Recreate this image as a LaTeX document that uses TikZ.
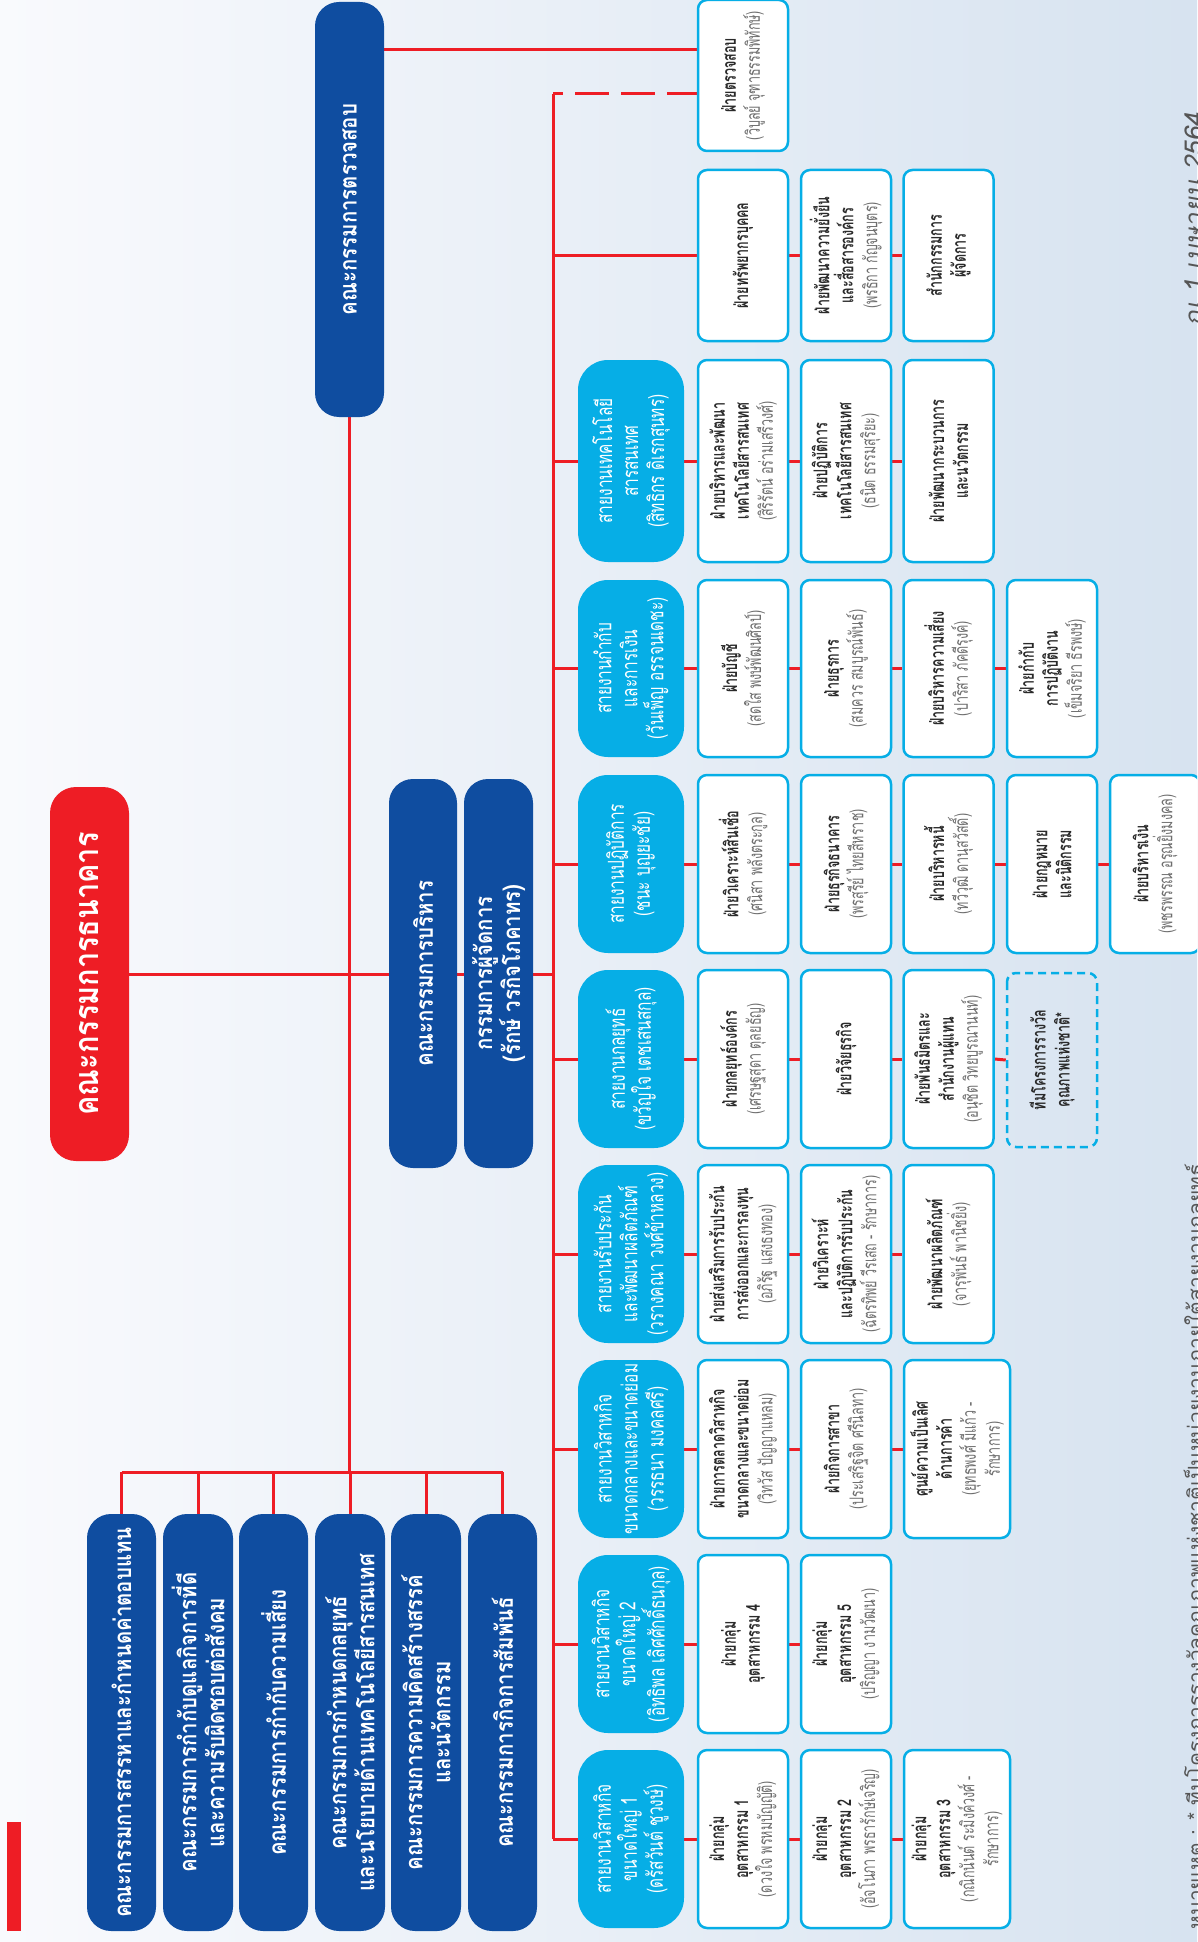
\documentclass[tikz,border=0pt]{standalone}
\usepackage{fontspec}
\newfontfamily\thaisub[Script=Thai,FakeStretch=0.66]{Loma}
\newfontfamily\thaidiv[Script=Thai,FakeStretch=0.7]{Loma}
\newfontfamily\thaicond[Script=Thai,FakeStretch=0.85]{Loma}
\newfontfamily\thaireg[Script=Thai]{Loma}
\newfontfamily\thaiital[Script=Thai,FakeSlant=0.18]{Loma}
\definecolor{myred}{HTML}{EE1D25}
\definecolor{myblue}{HTML}{0F4DA0}
\definecolor{mycyan}{HTML}{06AEE6}
\definecolor{bgl}{HTML}{F9FAFD}
\definecolor{bgr}{HTML}{D7E3F0}
\definecolor{namegray}{HTML}{6E6E6E}
\definecolor{titlec}{HTML}{2A2A2A}
\definecolor{notegray}{HTML}{555555}
\newcommand\pname[1]{{\mdseries\color{namegray}#1}}
\pgfdeclarelayer{back}
\pgfdeclarelayer{lines}
\pgfsetlayers{back,lines,main}
\tikzset{
  conn/.style={draw=myred, line width=3pt},
  dconn/.style={conn, dash pattern=on 34pt off 12pt, dash phase=24pt},
  rot/.style 2 args={rotate=90, minimum width=#1, minimum height=#2, inner sep=2pt, align=center},
  boardbox/.style={rot={374pt}{79pt}, fill=myred, rounded corners=26pt, text=white, font=\thaicond\bfseries\fontsize{34}{40}\selectfont},
  bluebox/.style={fill=myblue, rounded corners=24pt, text=white, font=\thaicond\bfseries\fontsize{24}{28}\selectfont},
  divbox/.style={rot={#1}{106pt}, fill=mycyan, rounded corners=30pt, text=white, font=\thaidiv\fontsize{22}{26}\selectfont},
  subbox/.style={rot={#1}{90pt}, draw=mycyan, line width=2.5pt, fill=white, rounded corners=9pt, text=titlec, font=\thaisub\bfseries\fontsize{19}{24}\selectfont},
  widebox/.style={subbox=#1, minimum height=106pt},
  teambox/.style={rot={#1}{90pt}, draw=mycyan, line width=2.5pt, dash pattern=on 8pt off 5pt, rounded corners=9pt, text=titlec, font=\thaisub\bfseries\fontsize{19}{24}\selectfont},
}
\begin{document}
\begin{tikzpicture}[x=1pt,y=-1pt]
\useasboundingbox (0,0) rectangle (1197,1942);
\clip (0,0) rectangle (1197,1942);
\begin{pgfonlayer}{back}
  \shade[left color=bgl, right color=bgr] (0,0) rectangle (1197,1942);
  \fill[myred] (7,1822) rectangle (21,1931);
\end{pgfonlayer}

% board and committees
\node[boardbox] (board) at (89.5,974) {คณะกรรมการธนาคาร};
\node[bluebox, rot={415pt}{69pt}] (audit) at (349.5,209.5) {คณะกรรมการตรวจสอบ};
\node[bluebox, rot={389pt}{68pt}] (exec) at (423,973.5) {คณะกรรมการบริหาร};
\node[bluebox, rot={389pt}{69pt}] (md) at (498.5,973.5) {กรรมการผู้จัดการ\\(รักษ์ วรกิจโภคาทร)};
\node[bluebox, rot={417pt}{69pt}] (c1) at (121.5,1722.5) {คณะกรรมการสรรหาและกำหนดค่าตอบแทน};
\node[bluebox, rot={417pt}{70pt}] (c2) at (198,1722.5) {คณะกรรมการกำกับดูแลกิจการที่ดี\\และความรับผิดชอบต่อสังคม};
\node[bluebox, rot={417pt}{69pt}] (c3) at (273.5,1722.5) {คณะกรรมการกำกับความเสี่ยง};
\node[bluebox, rot={417pt}{70pt}] (c4) at (350,1722.5) {คณะกรรมการกำหนดกลยุทธ์\\และนโยบายด้านเทคโนโลยีสารสนเทศ};
\node[bluebox, rot={417pt}{70pt}] (c5) at (426,1722.5) {คณะกรรมการความคิดสร้างสรรค์\\และนวัตกรรม};
\node[bluebox, rot={417pt}{69pt}] (c6) at (502.5,1722.5) {คณะกรรมการกิจการสัมพันธ์};

% divisions
\node[divbox=202pt] (dtech) at (631,461) {สายงานเทคโนโลยี\\สารสนเทศ\\(สิทธิกร ดิเรกสุนทร)};
\node[divbox=177pt] (dfin) at (631,668.5) {สายงานกำกับ\\และการเงิน\\(วันเพ็ญ อรรจนเดชะ)};
\node[divbox=178pt] (dops) at (631,864) {สายงานปฏิบัติการ\\(ชนะ บุญยะชัย)};
\node[divbox=178pt] (dstr) at (631,1059) {สายงานกลยุทธ์\\(ขวัญใจ เตชเสนสกุล)};
\node[divbox=178pt] (dins) at (631,1254) {สายงานรับประกัน\\และพัฒนาผลิตภัณฑ์\\(วรางคณา วงศ์ข้าหลวง)};
\node[divbox=178pt] (dmed) at (631,1449) {สายงานวิสาหกิจ\\ขนาดกลางและขนาดย่อม\\(วรรธนา มงคลศรี)};
\node[divbox=178pt] (dlg2) at (631,1644) {สายงานวิสาหกิจ\\ขนาดใหญ่ 2\\(อิทธิพล เลิศศักดิ์ธนกุล)};
\node[divbox=178pt] (dlg1) at (631,1839) {สายงานวิสาหกิจ\\ขนาดใหญ่ 1\\(ดรัสวันต์ ชูวงษ์)};

% departments
\node[subbox=151pt] (aud) at (743,75.5) {ฝ่ายตรวจสอบ\\\pname{(วิบูลย์ จุฑาธรรมพิทักษ์)}};
\node[subbox=171pt] (hr1) at (743,255.5) {ฝ่ายทรัพยากรบุคคล};
\node[subbox=171pt] (hr2) at (846,255.5) {ฝ่ายพัฒนาความยั่งยืน\\และสื่อสารองค์กร\\\pname{(พรธิกา กัญจนบุตร)}};
\node[subbox=171pt] (hr3) at (948.5,255.5) {สำนักกรรมการ\\ผู้จัดการ};

\node[subbox=202pt] (t1) at (743,461) {ฝ่ายบริหารและพัฒนา\\เทคโนโลยีสารสนเทศ\\\pname{(สิริรัตน์ อร่ามเสรีวงศ์)}};
\node[subbox=202pt] (t2) at (846,461) {ฝ่ายปฏิบัติการ\\เทคโนโลยีสารสนเทศ\\\pname{(ธนิต ธรรมสุริยะ)}};
\node[subbox=202pt] (t3) at (948.5,461) {ฝ่ายพัฒนากระบวนการ\\และนวัตกรรม};

\node[subbox=177pt] (f1) at (743,668.5) {ฝ่ายบัญชี\\\pname{(สดใส พงษ์พัฒนศิลป์)}};
\node[subbox=177pt] (f2) at (846,668.5) {ฝ่ายธุรการ\\\pname{(สมควร สมบูรณ์พันธ์)}};
\node[subbox=177pt] (f3) at (948.5,668.5) {ฝ่ายบริหารความเสี่ยง\\\pname{(ปาริสา ภัคดีรุงค์)}};
\node[subbox=177pt] (f4) at (1052,668.5) {ฝ่ายกำกับ\\การปฏิบัติงาน\\\pname{(เข็มจริยา ธีรพงษ์)}};

\node[subbox=178pt] (o1) at (743,864) {ฝ่ายวิเคราะห์สินเชื่อ\\\pname{(ศนิสา พลังตระกูล)}};
\node[subbox=178pt] (o2) at (846,864) {ฝ่ายธุรกิจธนาคาร\\\pname{(พรสุรีย์ ไทยสีหราช)}};
\node[subbox=178pt] (o3) at (948.5,864) {ฝ่ายบริหารหนี้\\\pname{(ทวีวุฒิ ดานุสวัสดิ์)}};
\node[subbox=178pt] (o4) at (1052,864) {ฝ่ายกฎหมาย\\และนิติกรรม};
\node[subbox=178pt] (o5) at (1155,864) {ฝ่ายบริหารเงิน\\\pname{(พชรพรรณ อรุณยิ่งมงคล)}};

\node[subbox=178pt] (s1) at (743,1059) {ฝ่ายกลยุทธ์องค์กร\\\pname{(เศรษฐสุดา ตุลยธัญ)}};
\node[subbox=178pt] (s2) at (846,1059) {ฝ่ายวิจัยธุรกิจ};
\node[subbox=178pt] (s3) at (948.5,1059) {ฝ่ายพันธมิตรและ\\สำนักงานผู้แทน\\\pname{(อนุชิต วิทยบูรณานนท์)}};
\node[teambox=174pt] (s4) at (1052,1060) {ทีมโครงการรางวัล\\คุณภาพแห่งชาติ*};

\node[subbox=178pt] (i1) at (743,1254) {ฝ่ายส่งเสริมการรับประกัน\\การส่งออกและการลงทุน\\\pname{(อภิรัฐ แสงธงทอง)}};
\node[subbox=178pt] (i2) at (846,1254) {ฝ่ายวิเคราะห์\\และปฏิบัติการรับประกัน\\\pname{(ฉัตรทิพย์ วีรเสถ - รักษาการ)}};
\node[subbox=178pt] (i3) at (948.5,1254) {ฝ่ายพัฒนาผลิตภัณฑ์\\\pname{(จารุพันธ์ พานิชยิ่ง)}};

\node[subbox=178pt] (m1) at (743,1449) {ฝ่ายการตลาดวิสาหกิจ\\ขนาดกลางและขนาดย่อม\\\pname{(วิทวัส ปัญญาแหลม)}};
\node[subbox=178pt] (m2) at (846,1449) {ฝ่ายกิจการสาขา\\\pname{(ประเสริฐจิต ศรีนิลทา)}};
\node[widebox=178pt] (m3) at (957,1449) {ศูนย์ความเป็นเลิศ\\ด้านการค้า\\\pname{(ยุทธพงศ์ มีแก้ว -}\\\pname{รักษาการ)}};

\node[subbox=178pt] (la) at (743,1644) {ฝ่ายกลุ่ม\\อุตสาหกรรม 4};
\node[subbox=178pt] (lb) at (846,1644) {ฝ่ายกลุ่ม\\อุตสาหกรรม 5\\\pname{(ปริญญา งามวัฒนา)}};

\node[subbox=178pt] (ka) at (743,1839) {ฝ่ายกลุ่ม\\อุตสาหกรรม 1\\\pname{(ดวงใจ พรหมบัญญัติ)}};
\node[subbox=178pt] (kb) at (846,1839) {ฝ่ายกลุ่ม\\อุตสาหกรรม 2\\\pname{(อัจโนภา พรธารักษ์เจริญ)}};
\node[widebox=178pt] (kc) at (957,1839) {ฝ่ายกลุ่ม\\อุตสาหกรรม 3\\\pname{(กณิกนันต์ ระมิงค์วงศ์ -}\\\pname{รักษาการ)}};

% notes
\node[rotate=90, anchor=base west, font=\thaiital\fontsize{26}{30}\selectfont, text=notegray] (date) at (1203,330) {ณ 1 เมษายน 2564};
\node[rotate=90, anchor=base west, font=\thaireg\fontsize{21}{25}\selectfont, text=notegray] (note) at (1203,1933) {หมายเหตุ : * ทีมโครงการรางวัลคุณภาพแห่งชาติเป็นหน่วยงานภายใต้สายงานกลยุทธ์};

% connectors
\coordinate (sTop) at (553,94);
\coordinate (bus) at (0,1472);
\coordinate (a50) at (0,50);
\begin{pgfonlayer}{lines}
  \draw[conn] (board.south) -- (board.south -| sTop);
  \draw[conn] (audit.west) -- (audit.west |- bus);
  \draw[conn] (audit.south |- a50) -- (aud.north |- a50);
  \draw[dconn] (sTop) -- (aud.north |- sTop);
  \draw[conn] (sTop) -- (sTop |- dlg1.north);
  \draw[conn] (c1.east |- bus) -- (c6.east |- bus);
  \foreach \c in {c1,c2,c3,c4,c5,c6} \draw[conn] (\c.east) -- (\c.east |- bus);
  \draw[conn] (sTop |- hr1.north) -- (hr1.north);
  \draw[conn] (hr1.south) -- (hr2.north);
  \draw[conn] (hr2.south) -- (hr3.north);
  \foreach \d/\a in {dtech/t1,dfin/f1,dops/o1,dstr/s1,dins/i1,dmed/m1,dlg2/la,dlg1/ka} {
    \draw[conn] (sTop |- \d.north) -- (\d.north);
    \draw[conn] (\d.south) -- (\a.north);
  }
  \foreach \a/\b in {t1/t2,t2/t3,f1/f2,f2/f3,f3/f4,o1/o2,o2/o3,o3/o4,o4/o5,s1/s2,s2/s3,s3/s4,i1/i2,i2/i3,m1/m2,m2/m3,la/lb,ka/kb,kb/kc}
    \draw[conn] (\a.south) -- (\b.north);
\end{pgfonlayer}
\end{tikzpicture}
\end{document}
